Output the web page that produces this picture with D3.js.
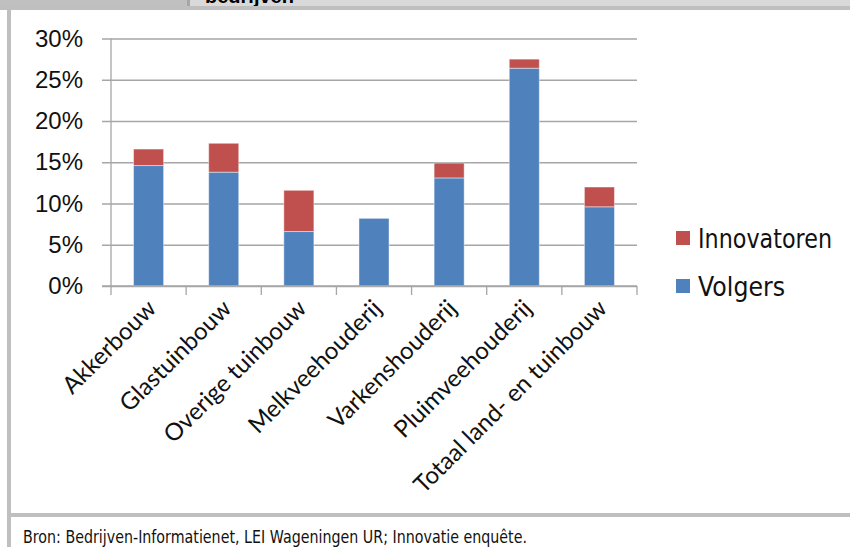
<!DOCTYPE html>
<html lang="nl">
  <head>
    <meta charset="UTF-8" />
    <title>Innovatoren en volgers</title>
    <script src="https://d3js.org/d3.v7.min.js"></script>
    <style>
      html,
      body {
        margin: 0;
        padding: 0;
        background: #ffffff;
      }
      svg {
        display: block;
      }
      .ytick text {
        font-family: "Liberation Sans", Arial, sans-serif;
        font-size: 24px;
        fill: #111;
      }
      .cat {
        font-family: Lato, "Open Sans", sans-serif;
        font-size: 24px;
        fill: #111;
      }
      .legend text {
        font-family: "DejaVu Sans", sans-serif;
        font-size: 27px;
        fill: #111;
      }
      .bron {
        font-family: "DejaVu Sans", sans-serif;
        font-size: 17px;
        fill: #111;
      }
    </style>
  </head>
  <body>
    <svg id="chart" width="850" height="547"></svg>

    <script>
      // chart data
      const categories = [
        "Akkerbouw",
        "Glastuinbouw",
        "Overige tuinbouw",
        "Melkveehouderij",
        "Varkenshouderij",
        "Pluimveehouderij",
        "Totaal land- en tuinbouw",
      ];
      const volgers = [14.6, 13.8, 6.6, 8.2, 13.1, 26.4, 9.6];
      const innovatoren = [2.0, 3.5, 5.0, 0.0, 1.8, 1.1, 2.4];
      const yTicks = [0, 5, 10, 15, 20, 25, 30];
      const seriesNames = ["Volgers", "Innovatoren"];
      const colors = { Volgers: "#4f81bd", Innovatoren: "#c0504d" };

      const svg = d3.select("#chart");

      // frame around the figure (page layout)
      svg.append("rect").attr("x", 0).attr("y", 0).attr("width", 850).attr("height", 7).attr("fill", "#d9d9d9");
      svg.append("rect").attr("x", 0).attr("y", 0).attr("width", 187).attr("height", 7).attr("fill", "#c0c0c0");
      svg.append("rect").attr("x", 187).attr("y", 0).attr("width", 3).attr("height", 7).attr("fill", "#a6a6a6");
      svg
        .append("text")
        .attr("x", 205)
        .attr("y", 3)
        .attr("font-family", "Liberation Sans, Arial, sans-serif")
        .attr("font-weight", "bold")
        .attr("font-size", 20)
        .text("bedrijven");
      svg.append("rect").attr("x", 0).attr("y", 6).attr("width", 850).attr("height", 4).attr("fill", "#bfbfbf");
      svg.append("rect").attr("x", 7).attr("y", 6).attr("width", 4).attr("height", 541).attr("fill", "#bfbfbf");
      svg.append("rect").attr("x", 7).attr("y", 513).attr("width", 843).attr("height", 4).attr("fill", "#bfbfbf");

      const plot = { left: 111, right: 637, top: 38.5, bottom: 286 };

      const x = d3
        .scaleBand()
        .domain(categories)
        .range([plot.left, plot.right])
        .paddingInner(0.6)
        .paddingOuter(0.3);

      const y = d3.scaleLinear().domain([0, 30]).range([plot.bottom, plot.top]);

      // gridlines
      svg
        .append("g")
        .attr("transform", `translate(${plot.left - 9},0)`)
        .call(
          d3
            .axisLeft(y)
            .tickValues(yTicks)
            .tickSize(-(plot.right - plot.left + 9))
            .tickFormat("")
        )
        .call((g) => g.select(".domain").remove())
        .call((g) =>
          g.selectAll("line").attr("stroke", "#a6a6a6").attr("stroke-width", 1.3)
        );

      // y axis
      svg
        .append("g")
        .attr("class", "ytick")
        .attr("transform", `translate(${plot.left},0)`)
        .call(
          d3
            .axisLeft(y)
            .tickValues(yTicks)
            .tickSize(0)
            .tickPadding(28)
            .tickFormat((d) => d + "%")
        )
        .call((g) => g.select(".domain").remove());

      svg
        .append("line")
        .attr("x1", plot.left)
        .attr("x2", plot.left)
        .attr("y1", y(30))
        .attr("y2", y(0))
        .attr("stroke", "#a6a6a6")
        .attr("stroke-width", 1.3);

      // stacked bars
      const rows = categories.map((c, i) => ({
        cat: c,
        Volgers: volgers[i],
        Innovatoren: innovatoren[i],
      }));
      const stacked = d3.stack().keys(seriesNames)(rows);

      svg
        .append("g")
        .selectAll("g")
        .data(stacked)
        .join("g")
        .attr("fill", (s) => colors[s.key])
        .selectAll("rect")
        .data((s) => s.filter((d) => d[1] - d[0] > 0))
        .join("rect")
        .attr("x", (d) => x(d.data.cat))
        .attr("width", x.bandwidth())
        .attr("y", (d) => y(d[1]))
        .attr("height", (d) => y(d[0]) - y(d[1]))
        .attr("stroke", "rgba(255,255,255,0.45)")
        .attr("stroke-width", 1);

      // x axis with ticks on category boundaries
      svg
        .append("line")
        .attr("x1", plot.left - 9)
        .attr("x2", plot.right)
        .attr("y1", y(0))
        .attr("y2", y(0))
        .attr("stroke", "#a6a6a6")
        .attr("stroke-width", 1.3);

      svg
        .append("g")
        .selectAll("line")
        .data(d3.range(categories.length + 1))
        .join("line")
        .attr("x1", (k) => plot.left + k * x.step())
        .attr("x2", (k) => plot.left + k * x.step())
        .attr("y1", y(0))
        .attr("y2", y(0) + 9)
        .attr("stroke", "#a6a6a6")
        .attr("stroke-width", 1.3);

      // rotated category labels
      svg
        .append("g")
        .selectAll("text")
        .data(categories)
        .join("text")
        .attr("class", "cat")
        .attr("text-anchor", "end")
        .attr(
          "transform",
          (d) => `translate(${x(d) + x.bandwidth() / 2 + 9},${y(0) + 24}) rotate(-45)`
        )
        .text((d) => d);

      // legend (narrow lettering: fit to the original text widths)
      const legendItems = ["Innovatoren", "Volgers"];
      const legendWidths = { Innovatoren: 134, Volgers: 87 };
      const legend = svg
        .append("g")
        .attr("class", "legend")
        .selectAll("g")
        .data(legendItems)
        .join("g")
        .attr("transform", (d, i) => `translate(676,${231 + i * 48})`);

      legend
        .append("rect")
        .attr("width", 14)
        .attr("height", 14)
        .attr("fill", (d) => colors[d]);

      legend
        .append("text")
        .attr("x", 22)
        .attr("y", 17)
        .attr("textLength", (d) => legendWidths[d])
        .attr("lengthAdjust", "spacingAndGlyphs")
        .text((d) => d);

      // source
      svg
        .append("text")
        .attr("class", "bron")
        .attr("x", 23)
        .attr("y", 543)
        .attr("textLength", 504)
        .attr("lengthAdjust", "spacingAndGlyphs")
        .text("Bron: Bedrijven-Informatienet, LEI Wageningen UR; Innovatie enquête.");
    </script>
  </body>
</html>
